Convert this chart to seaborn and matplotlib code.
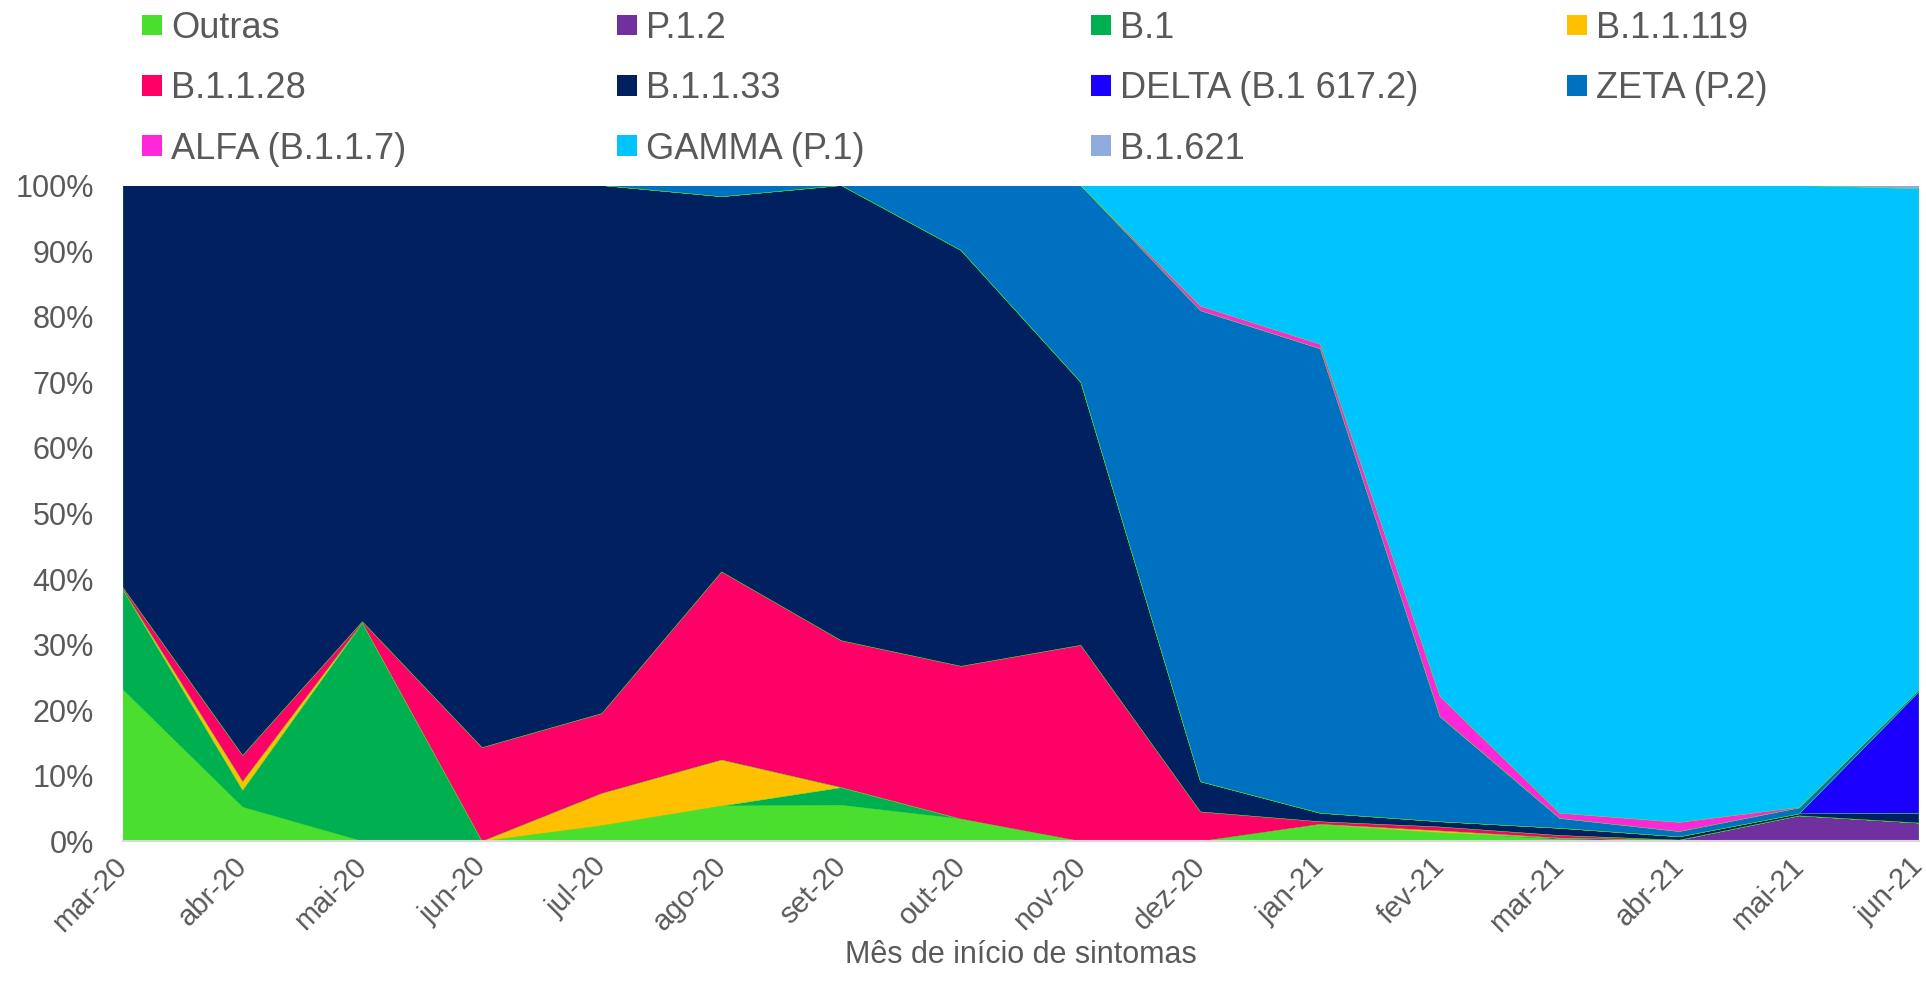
import matplotlib
matplotlib.use("Agg")
import matplotlib.pyplot as plt
from matplotlib.patches import Patch
from matplotlib.ticker import PercentFormatter
import seaborn as sns

sns.set_style("white")
plt.rcParams["font.family"] = ["Liberation Sans", "DejaVu Sans"]

# share of sequenced samples per lineage (%), by month of symptom onset
months = ["mar-20", "abr-20", "mai-20", "jun-20", "jul-20", "ago-20", "set-20", "out-20",
          "nov-20", "dez-20", "jan-21", "fev-21", "mar-21", "abr-21", "mai-21", "jun-21"]

outras    = [23.1, 5.2, 0.0, 0.0, 2.4, 5.4, 5.5, 3.4, 0.0, 0.0, 2.5, 1.3, 0.3, 0.0, 0.0, 0.0]
p_1_2     = [0.0, 0.0, 0.0, 0.0, 0.0, 0.0, 0.0, 0.0, 0.0, 0.0, 0.0, 0.0, 0.2, 0.2, 3.9, 2.8]
b_1       = [15.3, 2.6, 33.3, 0.0, 0.0, 0.0, 2.7, 0.0, 0.0, 0.0, 0.0, 0.0, 0.0, 0.0, 0.0, 0.0]
b_1_1_119 = [0.0, 1.3, 0.0, 0.0, 4.9, 7.0, 0.0, 0.0, 0.0, 0.0, 0.1, 0.3, 0.0, 0.0, 0.0, 0.0]
b_1_1_28  = [0.3, 4.0, 0.2, 14.3, 12.2, 28.7, 22.4, 23.3, 29.9, 4.5, 0.4, 0.6, 0.4, 0.0, 0.0, 0.0]
b_1_1_33  = [61.3, 86.9, 66.5, 85.7, 80.5, 57.2, 69.4, 63.4, 40.1, 4.6, 1.3, 0.8, 1.1, 0.5, 0.3, 1.5]
delta     = [0.0, 0.0, 0.0, 0.0, 0.0, 0.0, 0.0, 0.0, 0.0, 0.0, 0.0, 0.0, 0.0, 0.0, 0.0, 18.5]
zeta      = [0.0, 0.0, 0.0, 0.0, 0.0, 1.7, 0.0, 9.9, 30.0, 71.8, 70.8, 16.0, 1.5, 0.8, 0.9, 0.3]
alfa      = [0.0, 0.0, 0.0, 0.0, 0.0, 0.0, 0.0, 0.0, 0.0, 0.7, 0.7, 3.1, 0.8, 1.4, 0.1, 0.0]
gamma     = [0.0, 0.0, 0.0, 0.0, 0.0, 0.0, 0.0, 0.0, 0.0, 18.4, 24.2, 77.9, 95.7, 97.1, 94.8, 76.4]
b_1_621   = [0.0, 0.0, 0.0, 0.0, 0.0, 0.0, 0.0, 0.0, 0.0, 0.0, 0.0, 0.0, 0.0, 0.0, 0.0, 0.5]

labels = ["Outras", "P.1.2", "B.1", "B.1.1.119", "B.1.1.28", "B.1.1.33",
          "DELTA (B.1 617.2)", "ZETA (P.2)", "ALFA (B.1.1.7)", "GAMMA (P.1)", "B.1.621"]
colors = ["#4ADF2F", "#7030A0", "#00B050", "#FFC000", "#FF0066", "#002060",
          "#1B00FF", "#0070C0", "#FF28D8", "#00C4FF", "#8FAADC"]
series = [outras, p_1_2, b_1, b_1_1_119, b_1_1_28, b_1_1_33, delta, zeta, alfa, gamma, b_1_621]

grey = "#595959"
W, H = 1926, 1001
fig = plt.figure(figsize=(W / 100, H / 100), dpi=100)
ax = fig.add_axes([123 / W, 1 - 841.4 / H, (1919 - 123) / W, (841.4 - 185.5) / H])

x = list(range(len(months)))
ax.stackplot(x, *series, colors=colors, labels=labels, linewidth=0.3, edgecolors=colors)

ax.set_xlim(0, len(months) - 1)
ax.set_ylim(0, 100)
ax.set_yticks(range(0, 101, 10))
ax.yaxis.set_major_formatter(PercentFormatter(decimals=0))
ax.set_xticks(x)
ax.set_xticklabels(months, rotation=45, ha="right", va="center", rotation_mode="anchor")
ax.tick_params(axis="both", length=0, labelsize=22, labelcolor=grey)
ax.tick_params(axis="x", labelsize=21)
ax.tick_params(axis="y", pad=21)
ax.tick_params(axis="x", pad=15)
ax.set_xlabel("Mês de início de sintomas", fontsize=22, color=grey, va="center")
ax.xaxis.set_label_coords(0.5, (841.4 - 955) / 655.9)

sns.despine(ax=ax, left=True, top=True, right=True)
ax.spines["bottom"].set_color("#D9D9D9")
ax.spines["bottom"].set_linewidth(1.5)

# legend laid out row by row, one legend per column
col_x = [142, 617, 1091, 1567]
for c in range(4):
    idx = list(range(c, len(labels), 4))
    handles = [Patch(facecolor=colors[i], edgecolor="none") for i in idx]
    leg = fig.legend(handles, [labels[i] for i in idx], loc="upper left",
                     bbox_to_anchor=(col_x[c] / W, 1 - 11 / H), frameon=False,
                     fontsize=26, handlelength=0.55, handleheight=0.5,
                     handletextpad=0.25, labelspacing=0.7, borderpad=0, borderaxespad=0)
    for t in leg.get_texts():
        t.set_color(grey)

fig.savefig("out.png", dpi=100)
